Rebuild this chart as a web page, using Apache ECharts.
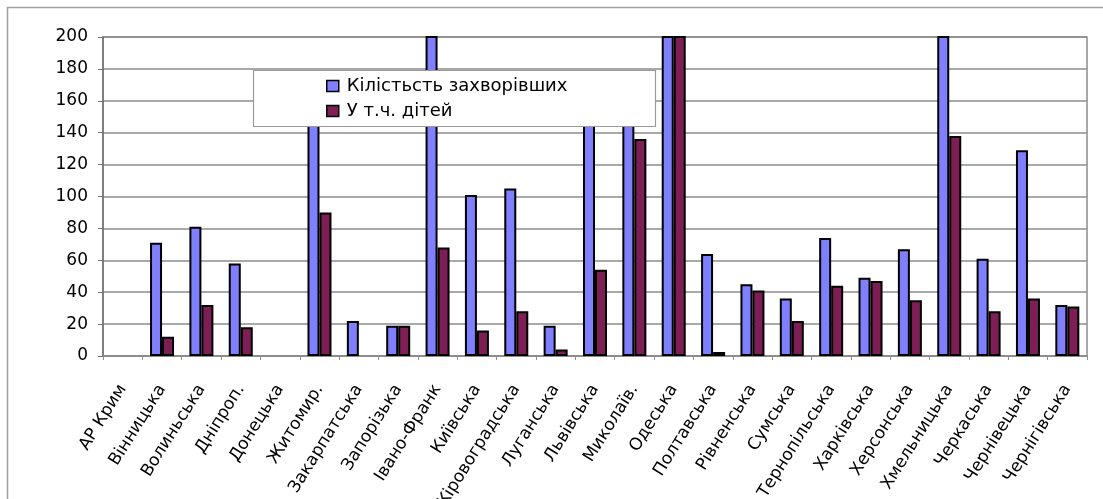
<!DOCTYPE html>
<html>
<head>
<meta charset="utf-8">
<script src="https://cdn.jsdelivr.net/npm/echarts@6/dist/echarts.min.js"></script>
<style>
  html, body { margin: 0; padding: 0; background: #fff; }
  #chart { width: 1103px; height: 499px; }
</style>
</head>
<body>
<div id="chart"></div>
<script>
// Regions of Ukraine
const regions = [
  'АР Крим', 'Вінницька', 'Волиньська', 'Дніпроп.', 'Донецька', 'Житомир.',
  'Закарпатська', 'Запорізька', 'Івано-Франк', 'Київська', 'Кіровоградська',
  'Луганська', 'Львівська', 'Миколаїв.', 'Одеська', 'Полтавська', 'Рівненська',
  'Сумська', 'Тернопільська', 'Харківська', 'Херсонська', 'Хмельницька',
  'Черкаська', 'Чернівецька', 'Чернігівська'
];

// Total number of cases per region (null = no cases reported)
const totalCases = [
  null, 71, 81, 58, null, 155, 22, 19, 240, 101, 105, 19, 165, 160, 300, 64, 45,
  36, 74, 49, 67, 230, 61, 129, 32
];

// Of which, children
const childCases = [
  null, 12, 32, 18, null, 90, null, 19, 68, 16, 28, 4, 54, 136, 260, 2.5, 41,
  22, 44, 47, 35, 138, 28, 36, 31
];

const yTicks = { min: 0, max: 200, step: 20 };

const seriesNames = ['Кілістьсть захворівших', 'У т.ч. дітей'];

const font = '"DejaVu Sans", "Liberation Sans", Arial, sans-serif';
const chart = echarts.init(document.getElementById('chart'), null, { renderer: 'canvas' });

chart.setOption({
  animation: false,
  backgroundColor: '#fff',
  graphic: [
    {
      // outer chart-area frame
      type: 'polyline',
      shape: { points: [[7.5, 499], [7.5, 7.5], [1103, 7.5]] },
      style: { stroke: '#a0a0a0', lineWidth: 1.5, fill: null },
      z: 0
    },
    {
      // legend frame, drawn above the bars
      type: 'rect',
      shape: { x: 253.5, y: 70.5, width: 402, height: 56 },
      style: { fill: '#fff', stroke: '#9a9a9a', lineWidth: 1.2 },
      z: 5
    }
  ],
  grid: {
    left: 103, right: 16, top: 37, bottom: 143,
    outerBoundsMode: 'none',
    show: true, borderColor: '#8c8c8c', borderWidth: 1.5, backgroundColor: '#fff'
  },
  legend: {
    orient: 'vertical',
    left: 322,
    top: 73,
    padding: [4, 4, 4, 4],
    itemGap: 7,
    itemWidth: 12,
    itemHeight: 11,
    icon: 'rect',
    z: 6,
    textStyle: { fontFamily: font, fontSize: 18, color: '#000', padding: [0, 0, 0, 3] },
    itemStyle: { borderColor: '#000', borderWidth: 1.5 },
    data: seriesNames
  },
  xAxis: {
    type: 'category',
    data: regions,
    axisLine: { lineStyle: { color: '#8c8c8c', width: 1.5 } },
    axisTick: { show: true, length: 4, lineStyle: { color: '#8c8c8c' } },
    axisLabel: { rotate: 58, interval: 0, fontFamily: font, fontSize: 17, color: '#000', margin: 30 }
  },
  yAxis: {
    type: 'value',
    min: yTicks.min,
    max: yTicks.max,
    interval: yTicks.step,
    axisLine: { show: true, lineStyle: { color: '#707070', width: 1.5 } },
    axisTick: { show: true, length: 5, lineStyle: { color: '#707070' } },
    splitLine: { lineStyle: { color: '#8c8c8c', width: 1.5 } },
    axisLabel: { fontFamily: font, fontSize: 17, color: '#000', margin: 15 }
  },
  series: [
    {
      name: seriesNames[0],
      type: 'bar',
      data: totalCases,
      barWidth: 12,
      barGap: '0%',
      itemStyle: { color: '#8080ff', borderColor: '#000', borderWidth: 2 }
    },
    {
      name: seriesNames[1],
      type: 'bar',
      data: childCases,
      barWidth: 12,
      barGap: '0%',
      itemStyle: { color: '#7d1f55', borderColor: '#000', borderWidth: 2 }
    }
  ]
});
</script>
</body>
</html>
